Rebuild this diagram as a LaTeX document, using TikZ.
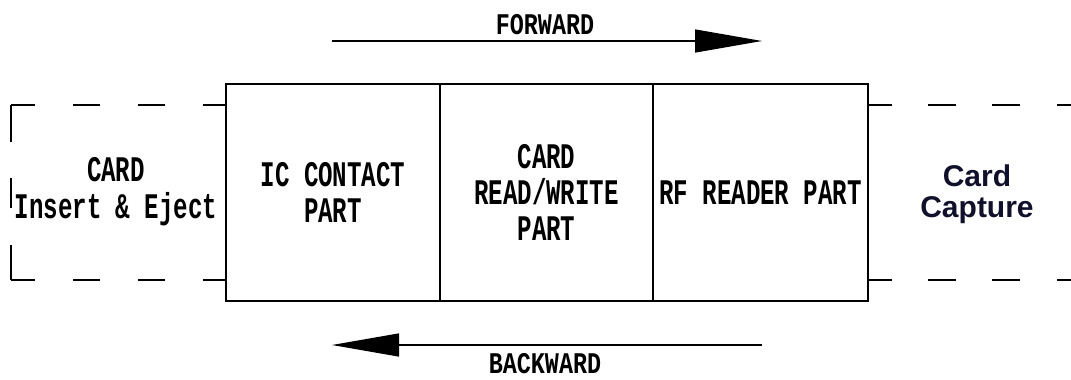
\documentclass[tikz,border=0pt]{standalone}
\usepackage{fontspec}
\usetikzlibrary{arrows.meta}
\newfontfamily\cadfont[FakeStretch=0.67]{Liberation Mono}
\newfontfamily\cadlab[FakeStretch=0.78]{Liberation Mono}
\newfontfamily\gothic{Liberation Sans}
\definecolor{navy}{HTML}{10102A}
\tikzset{
  partbox/.style={draw, line width=1.6pt, minimum height=217pt, inner sep=0pt, align=center,
    font=\cadfont\bfseries\fontsize{36}{36}\selectfont},
  sidetext/.style={inner sep=0pt, align=center, font=\cadfont\bfseries\fontsize{36}{37}\selectfont},
  captext/.style={inner sep=0pt, align=center, text=navy, font=\gothic\bfseries\fontsize{30}{31}\selectfont},
  dirlab/.style={inner sep=0pt, font=\cadlab\bfseries\fontsize{30}{30}\selectfont},
  dirarrow/.style={line width=1.3pt, -{Triangle[length=67pt,width=23pt]}},
  dashseg/.style={line width=1.3pt}
}
\begin{document}
\begin{tikzpicture}[x=1pt,y=-1pt]
\useasboundingbox (0,0) rectangle (1071,380);
% main parts
\node[partbox, minimum width=214pt] (ic) at (333,192.5) {IC CONTACT\\PART};
\node[partbox, minimum width=213pt] (rw) at (546.5,192.5) {CARD\\READ/WRITE\\PART};
\node[partbox, minimum width=215pt] (rf) at (760.5,192.5) {RF READER PART};
% side labels
\node[sidetext] (ins) at (116,192) {CARD\\Insert \& Eject};
\node[captext] (capt) at (977,194) {Card\\Capture};
% left dashed frame
\foreach \a/\b in {11/35,73/100,138/165,203/226}{
  \draw[dashseg] (\a,105) -- (\b,105);
  \draw[dashseg] (\a,280) -- (\b,280);
}
\draw[dashseg] (11,105) -- (11,142);
\draw[dashseg] (11,178) -- (11,208);
\draw[dashseg] (11,245) -- (11,280);
% right dashed lines
\foreach \a/\b in {868/892,928/956,992/1020,1057/1071}{
  \draw[dashseg] (\a,105) -- (\b,105);
  \draw[dashseg] (\a,280) -- (\b,280);
}
% direction arrows
\coordinate (fs) at (332,41);
\coordinate (fe) at (762,41);
\coordinate (bs) at (762,345);
\coordinate (be) at (332,345);
\draw[dirarrow] (fs) -- (fe);
\draw[dirarrow] (bs) -- (be);
\node[dirlab] (fwd) at (545,25) {FORWARD};
\node[dirlab] (bwd) at (545,364) {BACKWARD};
\end{tikzpicture}
\end{document}
